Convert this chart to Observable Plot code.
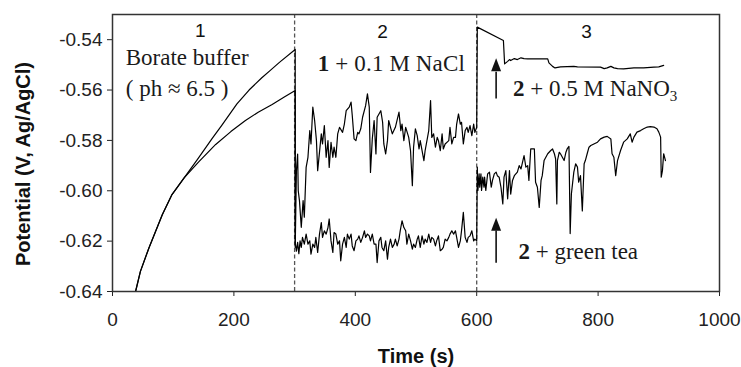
<!DOCTYPE html>
<html><head><meta charset="utf-8">
<script src="https://cdn.jsdelivr.net/npm/d3@7"></script>
<script src="https://cdn.jsdelivr.net/npm/@observablehq/plot@0.6"></script>
<style>body{margin:0;background:#fff}</style>
</head><body><div id="chart"></div>
<script>
// Trace A: borate (upper curve) -> NaCl (lower band) -> green tea
const traceA = [
[38,-0.640],[46,-0.632],[60,-0.6227],[82,-0.6095],[98,-0.6015],[118,-0.5949],[140,-0.5875],[164,-0.5793],[180,-0.5740],[205,-0.5655],[225,-0.5600],[246,-0.5551],[260,-0.5522],[275,-0.5490],[301,-0.5439],
[301,-0.6205],[303,-0.6240],[305,-0.6205],[307,-0.6250],[309,-0.6199],[311,-0.6225],[313,-0.6185],[316,-0.6212],
[319,-0.6172],[322,-0.6212],[325,-0.6199],[327,-0.6252],[330,-0.6212],[333,-0.6225],[335,-0.6185],[338,-0.6245],[341,-0.6172],[344,-0.6126],[346,-0.6185],[349,-0.6159],[352,-0.6172],[355,-0.6146],[357,-0.6112],[360,-0.6199],[363,-0.6245],[365,-0.6166],[368,-0.6172],[371,-0.6212],[374,-0.6199],[376,-0.6278],[379,-0.6212],[382,-0.6185],[385,-0.6225],[387,-0.6172],[390,-0.6192],[393,-0.6172],[395,-0.6219],[398,-0.6238],[401,-0.6199],[404,-0.6192],[406,-0.6179],[409,-0.6205],[412,-0.6185],[415,-0.6159],[417,-0.6185],[420,-0.6172],[423,-0.6179],[425,-0.6199],[428,-0.6172],[431,-0.6212],[434,-0.6212],[436,-0.6285],[439,-0.6199],[442,-0.6185],[444,-0.6225],[447,-0.6238],[450,-0.6199],[453,-0.6272],[455,-0.6225],[458,-0.6192],[461,-0.6225],[464,-0.6212],[466,-0.6192],[469,-0.6219],[472,-0.6192],[474,-0.6159],[477,-0.6119],[480,-0.6146],[483,-0.6159],[485,-0.6212],[488,-0.6172],[491,-0.6199],[494,-0.6232],[496,-0.6212],[499,-0.6225],[502,-0.6192],[504,-0.6179],[507,-0.6225],[510,-0.6179],[513,-0.6212],[515,-0.6192],[518,-0.6205],[521,-0.6172],[524,-0.6205],[526,-0.6185],[529,-0.6192],[532,-0.6219],[534,-0.6199],[537,-0.6179],[540,-0.6238],[543,-0.6232],[545,-0.6225],[548,-0.6192],[551,-0.6199],[554,-0.6185],[556,-0.6172],[559,-0.6159],[562,-0.6172],[565,-0.6159],[567,-0.6185],[570,-0.6225],[573,-0.6199],[575,-0.6159],[578,-0.6086],[581,-0.6185],[584,-0.6205],[586,-0.6185],[589,-0.6179],[592,-0.6159],[595,-0.6199],[597,-0.6192],[600,-0.6199],
[601,-0.5906],[602,-0.5999],[604,-0.5933],[605,-0.5986],[607,-0.5933],[608,-0.5999],[610,-0.5946],[612,-0.5986],[613,-0.5946],[615,-0.5999],[618,-0.5933],[621,-0.5926],[624,-0.5986],[626,-0.5959],[629,-0.5933],[632,-0.5926],[634,-0.5940],[637,-0.5946],[640,-0.5986],[643,-0.6052],[645,-0.5946],[648,-0.5920],[651,-0.6032],[654,-0.5920],[656,-0.6013],[659,-0.5959],[662,-0.5940],[667,-0.5926],[670,-0.5900],[673,-0.5913],[678,-0.5860],[681,-0.5906],[684,-0.5900],[686,-0.5959],[689,-0.5834],[695,-0.5834],[697,-0.5966],[700,-0.5986],[703,-0.6066],[706,-0.5959],[708,-0.5940],[711,-0.5880],[717,-0.5853],[722,-0.5840],[725,-0.5834],[728,-0.5853],[730,-0.5873],[732,-0.6052],[733,-0.5880],[736,-0.5847],[738,-0.5853],[744,-0.5880],[747,-0.5847],[749,-0.5834],[752,-0.5824],[754,-0.6170],[756,-0.6013],[760,-0.5926],[763,-0.5893],[766,-0.5906],[768,-0.5966],[771,-0.5940],[774,-0.6080],[777,-0.5893],[779,-0.5880],[782,-0.5853],[785,-0.5827],[788,-0.5820],[793,-0.5814],[799,-0.5807],[804,-0.5794],[810,-0.5787],[815,-0.5784],[821,-0.5794],[823,-0.5853],[826,-0.5867],[829,-0.5940],[832,-0.5880],[837,-0.5840],[842,-0.5807],[848,-0.5794],[853,-0.5774],[856,-0.5807],[859,-0.5787],[864,-0.5767],[870,-0.5761],[875,-0.5754],[881,-0.5747],[886,-0.5745],[892,-0.5747],[897,-0.5754],[900,-0.5767],[903,-0.5787],[904,-0.5946],[906,-0.5920],[908,-0.5853],[911,-0.5880]
];
// Trace B: borate (lower curve) -> NaCl (upper band) -> NaNO3
const traceB = [
[38,-0.640],[46,-0.632],[60,-0.6227],[82,-0.6095],[98,-0.6015],[118,-0.5949],[142,-0.5885],[170,-0.5816],[195,-0.5765],[219,-0.5721],[240,-0.5688],[263,-0.5657],[283,-0.5628],[301,-0.5602],
[301,-0.6225],[303,-0.5920],[305,-0.5854],[306,-0.6000],[308,-0.6039],[311,-0.6145],[314,-0.6039],[316,-0.6105],[319,-0.5907],[322,-0.5867],[325,-0.5761],[327,-0.5814],[330,-0.5668],[333,-0.5721],[336,-0.5801],[338,-0.5920],[344,-0.5774],[346,-0.5814],[349,-0.5741],[352,-0.5867],[355,-0.5801],[357,-0.5907],[360,-0.5808],[363,-0.5867],[365,-0.5827],[368,-0.5867],[371,-0.5774],[374,-0.5748],[379,-0.5768],[382,-0.5735],[385,-0.5682],[390,-0.5668],[393,-0.5648],[395,-0.5701],[398,-0.5794],[401,-0.5801],[404,-0.5768],[406,-0.5774],[409,-0.5754],[412,-0.5708],[417,-0.5662],[420,-0.5615],[423,-0.5668],[425,-0.5927],[428,-0.5794],[431,-0.5721],[434,-0.5854],[436,-0.5708],[439,-0.5695],[442,-0.5682],[445,-0.5728],[447,-0.5814],[450,-0.5854],[453,-0.5801],[455,-0.5721],[458,-0.5748],[461,-0.5774],[466,-0.5748],[472,-0.5688],[475,-0.5761],[477,-0.5735],[480,-0.5801],[483,-0.5748],[488,-0.5788],[491,-0.5841],[494,-0.5980],[496,-0.5827],[499,-0.5754],[502,-0.5781],[505,-0.5834],[507,-0.5801],[513,-0.5880],[515,-0.5841],[521,-0.5761],[524,-0.5642],[526,-0.5788],[529,-0.5774],[532,-0.5827],[535,-0.5788],[537,-0.5801],[540,-0.5841],[543,-0.5774],[545,-0.5834],[548,-0.5814],[554,-0.5801],[556,-0.5748],[559,-0.5814],[562,-0.5788],[565,-0.5788],[567,-0.5735],[570,-0.5695],[573,-0.5735],[575,-0.5728],[578,-0.5814],[581,-0.5761],[584,-0.5748],[586,-0.5768],[589,-0.5741],[592,-0.5781],[595,-0.5735],[597,-0.5768],[600,-0.5748],
[601,-0.5350],[644,-0.5403],[646,-0.5496],[651,-0.5486],[654,-0.5479],[656,-0.5483],[662,-0.5475],[667,-0.5479],[673,-0.5472],[678,-0.5475],[684,-0.5476],[717,-0.5476],[719,-0.5492],[725,-0.5506],[729,-0.5512],[738,-0.5508],[760,-0.5506],[766,-0.5508],[804,-0.5509],[810,-0.5515],[815,-0.5512],[821,-0.5506],[826,-0.5512],[832,-0.5515],[842,-0.5516],[859,-0.5512],[875,-0.5512],[892,-0.5509],[900,-0.5508],[908,-0.5502]
];
const xTicks = [0, 200, 400, 600, 800, 1000];
const yTicks = [-0.64, -0.62, -0.60, -0.58, -0.56, -0.54];
const phaseBoundaries = [300, 600];
const phaseNames = ["1", "2", "3"];
const xTitle = "Time (s)";
const yTitle = "Potential (V, Ag/AgCl)";
const noteBorate = ["Borate buffer", "( ph \u2248 6.5 )"];
const noteNaCl = "1 + 0.1 M NaCl";
const noteNitrate = "2 + 0.5 M NaNO3";
const noteTea = "2 + green tea";

const rows = [
  ...traceA.map(([t, v]) => ({t, v, trace: "A"})),
  ...traceB.map(([t, v]) => ({t, v, trace: "B"}))
];

const phaseLabelRows = [
  {x: 144.5, y: -0.5366, text: phaseNames[0], w: "bold"},
  {x: 445, y: -0.5370, text: phaseNames[1], w: "normal"},
  {x: 781, y: -0.5369, text: phaseNames[2], w: "normal"}
];
const serifNotes = [
  {x: 21.8, y: -0.5472, text: noteBorate[0]},
  {x: 21.8, y: -0.5595, text: noteBorate[1]},
  {x: 338.3, y: -0.5495, text: noteNaCl},
  {x: 660, y: -0.5596, text: noteNitrate},
  {x: 668.8, y: -0.6242, text: noteTea}
];
const arrows = [
  {x: 632, tail: -0.5634, base: -0.5527, head: -0.5500},
  {x: 632, tail: -0.6286, base: -0.6158, head: -0.6133}
];
const arrowHead = {
  draw(context, size) {
    const r = Math.sqrt(size / Math.PI);
    context.moveTo(0, -1.3 * r);
    context.lineTo(r, 1.3 * r);
    context.lineTo(-r, 1.3 * r);
    context.closePath();
  }
};

const serif = "'Liberation Serif', 'Times New Roman', serif";
const sans = "'Liberation Sans', Arial, sans-serif";

const chart = Plot.plot({
  width: 741,
  height: 367,
  marginLeft: 112,
  marginRight: 22,
  marginTop: 14,
  marginBottom: 76,
  style: {fontFamily: sans, fontSize: "19px", color: "#222", background: "#fff"},
  x: {domain: [0, 1000], ticks: xTicks, tickSize: 5, tickPadding: 16, tickFormat: d => String(d), label: null},
  y: {domain: [-0.64, -0.53], ticks: yTicks, tickSize: 5, tickPadding: 5, tickFormat: d => d.toFixed(2), label: null},
  marks: [
    Plot.ruleX(phaseBoundaries, {stroke: "#555", strokeWidth: 1.3, strokeDasharray: "4,2.5"}),
    Plot.line(rows, {x: "t", y: "v", z: "trace", stroke: "#000", strokeWidth: 1.2}),
    Plot.frame({stroke: "#333", strokeWidth: 1.5}),
    Plot.text(phaseLabelRows, {x: "x", y: "y", text: "text", fontWeight: d => d.w, fontSize: 19, fill: "#111", lineAnchor: "middle"}),
    Plot.text(serifNotes, {x: "x", y: "y", text: "text", fontFamily: serif, fontSize: 23, fill: "#1a1a1a", textAnchor: "start", lineAnchor: "middle"}),
    Plot.link(arrows, {x1: "x", x2: "x", y1: "tail", y2: "base", stroke: "#111", strokeWidth: 1.6}),
    Plot.dot(arrows, {x: "x", y: "head", r: 5, symbol: arrowHead, fill: "#111", stroke: "none"}),
    Plot.text([yTitle], {text: d => d, frameAnchor: "left", textAnchor: "middle", rotate: -90, dx: -89, dy: 11, fontWeight: "bold", fontSize: 20, fill: "#111", lineAnchor: "middle"}),
    Plot.text([xTitle], {text: d => d, frameAnchor: "bottom", textAnchor: "middle", dy: 57, fontWeight: "bold", fontSize: 20, fill: "#111", lineAnchor: "top"})
  ]
});
document.getElementById("chart").appendChild(chart);

// rich formatting for the serif notes (bold solution number, subscript)
d3.select(chart).selectAll("text").each(function() {
  const el = d3.select(this);
  const s = el.text();
  if (s === noteNaCl || s === noteNitrate || s === noteTea) {
    el.text(null);
    el.append("tspan").attr("font-weight", "bold").text(s.slice(0, 1));
    if (s === noteNitrate) {
      el.append("tspan").text(s.slice(1, -1));
      el.append("tspan").attr("font-size", 15).attr("dy", "0.3em").text(s.slice(-1));
    } else {
      el.append("tspan").text(s.slice(1));
    }
    if (s === noteNaCl) el.attr("textLength", 147).attr("lengthAdjust", "spacing");
  }
});
</script>
</body></html>
